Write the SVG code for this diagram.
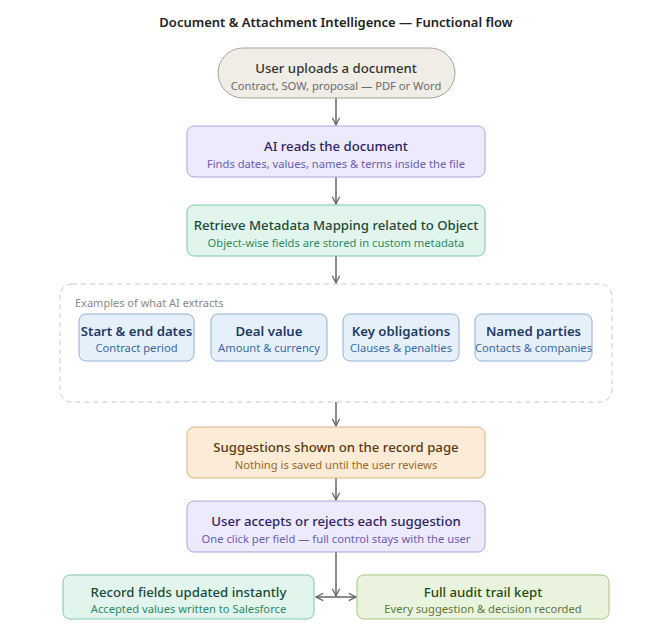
<svg xmlns="http://www.w3.org/2000/svg" width="672" height="632" viewBox="0 0 672 632">
<defs>
<marker id="arr" viewBox="0 0 10 10" refX="9" refY="5" markerWidth="9" markerHeight="9" markerUnits="userSpaceOnUse" orient="auto-start-reverse">
<path d="M1,1 L9,5 L1,9" fill="none" stroke="#666" stroke-width="1.4"/>
</marker>
</defs>
<style>
text{font-family:"Noto Sans","Open Sans","Liberation Sans",sans-serif;text-anchor:middle}
.ttl{font-size:13px;font-weight:600;fill:#222}
.t{font-size:13.2px;font-weight:500}
.s{font-size:11.2px}
.et{font-size:13.2px;font-weight:600;fill:#1f3b63}
.es{font-size:11.2px;fill:#3b6aa0}
.edge{fill:none;stroke:#666;stroke-width:1.5}
.ex{fill:#e6f0fb;stroke:#8fb0d6;stroke-width:1}
</style>
<rect width="672" height="632" fill="#fff"/>
<text class="ttl" x="336" y="27">Document &amp; Attachment Intelligence — Functional flow</text>

<g id="connectors">
<line class="edge" x1="336" y1="98" x2="336" y2="125" marker-end="url(#arr)"/>
<line class="edge" x1="336" y1="177" x2="336" y2="204" marker-end="url(#arr)"/>
<line class="edge" x1="336" y1="256" x2="336" y2="283" marker-end="url(#arr)"/>
<line class="edge" x1="336" y1="402" x2="336" y2="426" marker-end="url(#arr)"/>
<line class="edge" x1="336" y1="478" x2="336" y2="500" marker-end="url(#arr)"/>
<line class="edge" x1="336" y1="552" x2="336" y2="596" marker-end="url(#arr)"/>
<line class="edge" x1="316" y1="597" x2="356" y2="597" marker-start="url(#arr)" marker-end="url(#arr)"/>
</g>

<g id="upload">
<rect x="218" y="48" width="237" height="50" rx="25" fill="#f0ede6" stroke="#a8a49c"/>
<text class="t" x="336" y="73" fill="#333">User uploads a document</text>
<text class="s" x="336" y="90" fill="#6b6b6b">Contract, SOW, proposal — PDF or Word</text>
</g>

<g id="ai-reads">
<rect x="187" y="126" width="298" height="51" rx="7" fill="#eceafb" stroke="#aaa3dc"/>
<text class="t" x="336" y="151" fill="#2d2563">AI reads the document</text>
<text class="s" x="336" y="168" fill="#6a60b0">Finds dates, values, names &amp; terms inside the file</text>
</g>

<g id="metadata">
<rect x="187" y="205" width="298" height="51" rx="7" fill="#e2f5ed" stroke="#7fc6a6"/>
<text class="t" x="336" y="230" fill="#1a4a38">Retrieve Metadata Mapping related to Object</text>
<text class="s" x="336" y="247" fill="#2f8a63">Object-wise fields are stored in custom metadata</text>
</g>

<g id="examples">
<rect x="60" y="284" width="552" height="118" rx="12" fill="none" stroke="#c8c8c8" stroke-dasharray="5 4"/>
<text x="75" y="307" style="text-anchor:start;font-size:11px;fill:#888">Examples of what AI extracts</text>
</g>

<g id="ex-dates">
<rect class="ex" x="79" y="314" width="115" height="47" rx="7"/>
<text class="et" x="136.5" y="336">Start &amp; end dates</text>
<text class="es" x="136.5" y="352">Contract period</text>
</g>
<g id="ex-value">
<rect class="ex" x="211" y="314" width="116" height="47" rx="7"/>
<text class="et" x="269" y="336">Deal value</text>
<text class="es" x="269" y="352">Amount &amp; currency</text>
</g>
<g id="ex-obligations">
<rect class="ex" x="343" y="314" width="116" height="47" rx="7"/>
<text class="et" x="401" y="336">Key obligations</text>
<text class="es" x="401" y="352">Clauses &amp; penalties</text>
</g>
<g id="ex-parties">
<rect class="ex" x="475" y="314" width="117" height="47" rx="7"/>
<text class="et" x="533.5" y="336">Named parties</text>
<text class="es" x="533.5" y="352">Contacts &amp; companies</text>
</g>

<g id="suggestions">
<rect x="187" y="427" width="298" height="51" rx="7" fill="#fcebd7" stroke="#dab37e"/>
<text class="t" x="336" y="452" fill="#5a3a12">Suggestions shown on the record page</text>
<text class="s" x="336" y="469" fill="#9a6a2a">Nothing is saved until the user reviews</text>
</g>

<g id="review">
<rect x="187" y="501" width="298" height="51" rx="7" fill="#eceafb" stroke="#aaa3dc"/>
<text class="t" x="336" y="526" fill="#2d2563">User accepts or rejects each suggestion</text>
<text class="s" x="336" y="543" fill="#6a60b0">One click per field — full control stays with the user</text>
</g>

<g id="updated">
<rect x="63" y="575" width="251" height="44" rx="7" fill="#e2f5ed" stroke="#7fc6a6"/>
<text class="t" x="188.5" y="597" fill="#1a4a38">Record fields updated instantly</text>
<text class="s" x="188.5" y="613" fill="#2f8a63">Accepted values written to Salesforce</text>
</g>

<g id="audit">
<rect x="357" y="575" width="252" height="44" rx="7" fill="#eaf3dd" stroke="#a6c580"/>
<text class="t" x="483" y="597" fill="#2a4a12">Full audit trail kept</text>
<text class="s" x="483" y="613" fill="#5a7a3a">Every suggestion &amp; decision recorded</text>
</g>
</svg>
